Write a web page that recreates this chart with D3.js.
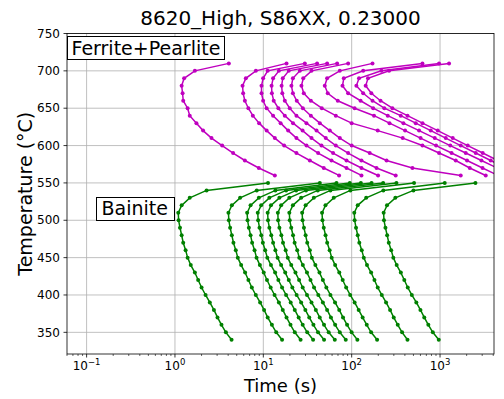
<html>
<head>
<script src="https://d3js.org/d3.v7.min.js"></script>
<style>
body { margin:0; background:#fff; }
text { font-family: "DejaVu Sans", sans-serif; }
</style>
</head>
<body>
<script>
var width = 504, height = 399;
var margin = {top:33.5, right:10, bottom:45, left:67};
var w = 427, h = 320.5;

// temperatures (°C) at which the points sit
var ferriteTemps = [560,570,580,590,600,610,620,630,640,650,660,670,680,690,700,710];
var bainiteTemps = [340,350,360,370,380,390,400,410,420,430,440,450,460,470,480,490,500,510,520,530,540,550];

// Ferrite+Pearlite curves, time (s) per temperature
var f1 = [13.5,8.89,6.18,4.55,3.42,2.59,2.08,1.75,1.47,1.39,1.24,1.22,1.19,1.27,1.68,4.07];
var f2 = [72.0,48.3,33.6,23.7,17.2,13.5,10.9,8.97,7.61,6.77,6.18,5.91,5.82,6.34,8.23,18.3];
var f3 = [129,87.4,59.1,41.7,30.8,23.7,19.1,15.7,12.9,10.9,9.95,9.54,9.54,9.95,11.2,29.5];
var f4 = [199,129,87.4,61.6,45.5,35.1,27.8,21.7,17.5,14.8,13.1,12.5,12.4,12.9,15.0,40.6];
var f5 = [315,191,129,91.1,66.1,50.9,40.0,30.8,23.7,19.9,17.5,16.4,16.1,16.6,19.4,52.7];
var f6 = [1715,487,248,160,100,73.4,56.5,43.6,34.5,28.0,23.9,21.6,20.8,21.6,25.9,68.4];
var f7 = [3289,2168,1505,975,632,378,197,100,66.1,45.9,34.5,28.7,27.0,28.3,35.1,91.1];
var f8 = [4530,3026,2020,1350,901,602,402,268,179,108,69.6,53.6,49.6,52.7,73.4,172];
var f9 = [6644,4415,2940,1953,1305,871,579,385,256,175,126,91.1,78.7,81.4,135,632];
var f10 = [8182,5537,3746,2534,1715,1160,785,531,359,234,172,135,113,121,217,975];
var f11 = [9820,6644,4496,3041,2057,1392,942,634,428,289,212,167,144,153,265,1264];

// Bainite curves, time (s) per temperature
var b1 = [4.37,3.77,3.36,3.03,2.76,2.48,2.22,2.0,1.83,1.68,1.51,1.39,1.32,1.24,1.19,1.14,1.10,1.09,1.19,1.47,2.28,11.3];
var b2 = [16.3,14.0,12.5,11.2,10.2,9.2,8.22,7.41,6.78,6.22,5.61,5.14,4.88,4.59,4.40,4.21,4.07,4.03,4.40,5.46,8.42,43.6];
var b3 = [26.4,22.7,20.3,18.3,16.6,15.0,13.4,12.1,11.0,10.1,9.14,8.38,7.96,7.47,7.17,6.86,6.63,6.56,7.17,8.90,13.7,67.3];
var b4 = [36.6,31.4,27.9,25.1,22.7,20.4,18.1,16.3,14.8,13.6,12.2,11.1,10.5,9.88,9.47,9.05,8.74,8.65,9.45,11.7,18.1,95.2];
var b5 = [48.7,41.6,36.9,33.1,29.9,26.8,23.8,21.3,19.4,17.7,15.9,14.5,13.7,12.9,12.3,11.7,11.3,11.2,12.2,15.2,23.5,127];
var b6 = [64.4,54.9,48.6,43.5,39.3,35.1,31.2,27.9,25.4,23.1,20.7,18.9,17.9,16.7,16.0,15.2,14.7,14.6,15.9,19.7,30.4,168];
var b7 = [85.7,73.3,65.0,58.2,52.7,47.2,41.9,37.5,34.2,31.2,28.0,25.5,24.2,22.6,21.7,20.7,19.9,19.7,21.6,26.8,41.3,227];
var b8 = [116,99.8,88.7,79.8,72.3,64.8,57.5,51.7,47.2,43.2,38.8,35.4,33.6,31.4,30.1,28.8,27.8,27.5,30.1,37.3,57.5,321];
var b9 = [194,166,148,133,120,108,96.2,86.6,79.1,72.4,65.0,59.4,56.3,52.8,50.6,48.3,46.7,46.2,50.5,62.7,96.7,508];
var b10 = [428,372,332,299,272,245,219,197,181,166,149,137,130,122,117,112,108,107,117,146,228,1130];
var b11 = [967,828,737,663,600,539,479,431,394,360,323,296,280,263,252,241,232,230,251,312,500,2515];

var ferriteCurves = [f1,f2,f3,f4,f5,f6,f7,f8,f9,f10,f11];
var bainiteCurves = [b1,b2,b3,b4,b5,b6,b7,b8,b9,b10,b11];

var xMajor = [0.1, 1, 10, 100, 1000];
var xExp = ["\u22121", "0", "1", "2", "3"];
var yTicks = [350,400,450,500,550,600,650,700,750];

var x = d3.scaleLog().domain([0.06, 4080]).range([0, w]);
var y = d3.scaleLinear().domain([321, 750]).range([h, 0]);

var svg = d3.select("body").append("svg")
    .attr("width", width)
    .attr("height", height);
svg.append("rect").attr("width", width).attr("height", height).attr("fill", "#fff");

var g = svg.append("g")
    .attr("transform", "translate(" + margin.left + "," + margin.top + ")");

g.append("clipPath").attr("id", "plotclip")
  .append("rect").attr("width", w).attr("height", h);

// grid
g.append("g").selectAll("line").data(xMajor).enter().append("line")
    .attr("x1", function(d){ return x(d); }).attr("x2", function(d){ return x(d); })
    .attr("y1", 0).attr("y2", h)
    .attr("stroke", "#b0b0b0").attr("stroke-width", 0.8);
g.append("g").selectAll("line").data(yTicks).enter().append("line")
    .attr("x1", 0).attr("x2", w)
    .attr("y1", function(d){ return y(d); }).attr("y2", function(d){ return y(d); })
    .attr("stroke", "#b0b0b0").attr("stroke-width", 0.8);

var line = d3.line()
    .x(function(d){ return x(d[0]); })
    .y(function(d){ return y(d[1]); });

var plot = g.append("g").attr("clip-path", "url(#plotclip)");

function drawCurve(times, temps, color) {
  var pts = times.map(function(t, i){ return [t, temps[i]]; });
  plot.append("path").datum(pts)
    .attr("d", line)
    .attr("fill", "none")
    .attr("stroke", color)
    .attr("stroke-width", 1.5);
  plot.append("g").selectAll("circle").data(pts).enter().append("circle")
    .attr("cx", function(d){ return x(d[0]); })
    .attr("cy", function(d){ return y(d[1]); })
    .attr("r", 2)
    .attr("fill", color);
}

ferriteCurves.forEach(function(c){ drawCurve(c, ferriteTemps, "#bf00bf"); });
bainiteCurves.forEach(function(c){ drawCurve(c, bainiteTemps, "#008000"); });

// axes frame
g.append("rect").attr("width", w).attr("height", h)
    .attr("fill", "none").attr("stroke", "#000").attr("stroke-width", 0.8);

// x ticks
var minor = [];
[0.01, 0.1, 1, 10, 100, 1000].forEach(function(dec){
  for (var k = 2; k <= 9; k++) {
    var v = dec * k;
    if (v >= 0.06 && v <= 4080) minor.push(v);
  }
});
g.append("g").selectAll("line").data(minor).enter().append("line")
    .attr("x1", function(d){ return x(d); }).attr("x2", function(d){ return x(d); })
    .attr("y1", h).attr("y2", h + 2)
    .attr("stroke", "#000").attr("stroke-width", 0.6);
g.append("g").selectAll("line").data(xMajor).enter().append("line")
    .attr("x1", function(d){ return x(d); }).attr("x2", function(d){ return x(d); })
    .attr("y1", h).attr("y2", h + 3.5)
    .attr("stroke", "#000").attr("stroke-width", 0.8);
var xl = g.append("g").selectAll("text").data(xMajor).enter().append("text")
    .attr("x", function(d){ return x(d); })
    .attr("y", h + 16)
    .attr("text-anchor", "middle")
    .attr("font-size", 12)
    .attr("fill", "#000");
xl.append("tspan").text("10");
xl.append("tspan").attr("dy", -5).attr("font-size", 8.5)
    .text(function(d, i){ return xExp[i]; });

// y ticks
g.append("g").selectAll("line").data(yTicks).enter().append("line")
    .attr("x1", -3.5).attr("x2", 0)
    .attr("y1", function(d){ return y(d); }).attr("y2", function(d){ return y(d); })
    .attr("stroke", "#000").attr("stroke-width", 0.8);
g.append("g").selectAll("text").data(yTicks).enter().append("text")
    .attr("x", -7)
    .attr("y", function(d){ return y(d); })
    .attr("dy", "0.35em")
    .attr("text-anchor", "end")
    .attr("font-size", 12)
    .attr("fill", "#000")
    .text(function(d){ return d; });

// labels
svg.append("text").attr("x", margin.left + w/2).attr("y", 25)
    .attr("text-anchor", "middle").attr("font-size", 20)
    .text("8620_High, S86XX, 0.23000");
svg.append("text").attr("x", margin.left + w/2).attr("y", 392)
    .attr("text-anchor", "middle").attr("font-size", 18)
    .text("Time (s)");
svg.append("text")
    .attr("transform", "translate(32," + (margin.top + h/2) + ") rotate(-90)")
    .attr("text-anchor", "middle").attr("font-size", 19)
    .text("Temperature (\u00b0C)");

// region boxes
function box(label, bx, by, bw, bh, tx, ty) {
  svg.append("rect").attr("x", bx).attr("y", by).attr("width", bw).attr("height", bh)
    .attr("fill", "#fff").attr("stroke", "#000").attr("stroke-width", 1);
  svg.append("text").attr("x", tx).attr("y", ty).attr("font-size", 19).text(label);
}
box("Ferrite+Pearlite", 67.5, 36.5, 157, 23, 71.5, 55);
box("Bainite", 96.5, 197.5, 78, 23, 101.5, 215);
</script>
</body>
</html>
